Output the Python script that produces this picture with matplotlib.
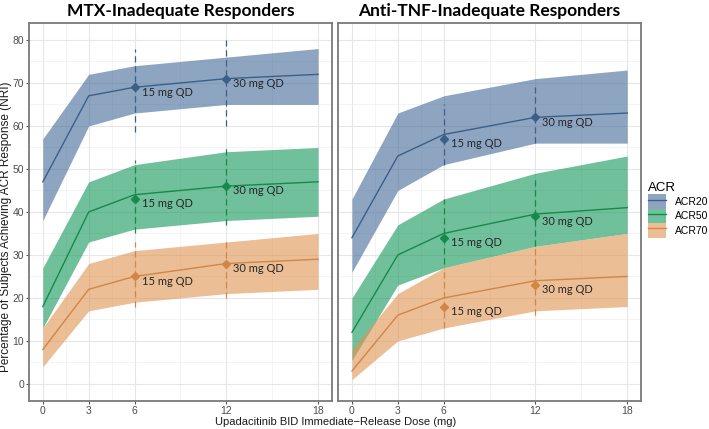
import matplotlib
matplotlib.use('agg')
import matplotlib.pyplot as plt
from matplotlib.patches import Patch
from matplotlib.lines import Line2D
import numpy as np

plt.rcParams['font.family'] = ['Liberation Sans', 'DejaVu Sans']

# model doses (mg BID) and observed doses
dose = [0, 3, 6, 12, 18]
obs_dose = [6, 12]
obs_labels = ['15 mg QD', '30 mg QD']
series = ['ACR20', 'ACR50', 'ACR70']

# MTX-inadequate responders: model median, lower, upper
mtx_mid = {'ACR20': [47, 67, 69, 71, 72],
           'ACR50': [18, 40, 44, 46, 47],
           'ACR70': [8, 22, 25, 28, 29]}
mtx_lo = {'ACR20': [38, 60, 63, 65, 65],
          'ACR50': [13, 33, 36, 38, 39],
          'ACR70': [4, 17, 19, 21, 22]}
mtx_hi = {'ACR20': [57, 72, 74, 76, 78],
          'ACR50': [27, 47, 51, 54, 55],
          'ACR70': [13, 28, 31, 33, 35]}
# observed values and their CIs at 15 / 30 mg QD
mtx_obs = {'ACR20': [69, 71], 'ACR50': [43, 46], 'ACR70': [25, 28]}
mtx_obs_lo = {'ACR20': [58.5, 60], 'ACR50': [35, 37], 'ACR70': [18, 20]}
mtx_obs_hi = {'ACR20': [78, 80], 'ACR50': [52, 55], 'ACR70': [33, 34]}

# anti-TNF-inadequate responders
tnf_mid = {'ACR20': [34, 53, 58, 62, 63],
           'ACR50': [12, 30, 35, 39.5, 41],
           'ACR70': [3, 16, 20, 24, 25]}
tnf_lo = {'ACR20': [26, 45, 51, 56, 56],
          'ACR50': [5.5, 23, 27, 32, 35],
          'ACR70': [1, 10, 13, 17, 18]}
tnf_hi = {'ACR20': [43, 63, 67, 71, 73],
          'ACR50': [20, 37, 43, 49, 53],
          'ACR70': [8, 21, 27, 32, 35]}
tnf_obs = {'ACR20': [57, 62], 'ACR50': [34, 39], 'ACR70': [18, 23]}
tnf_obs_lo = {'ACR20': [51, 56], 'ACR50': [28, 32], 'ACR70': [13, 16]}
tnf_obs_hi = {'ACR20': [65, 69], 'ACR50': [43, 48], 'ACR70': [27, 32]}

fill_col = {'ACR20': '#416998', 'ACR50': '#12965a', 'ACR70': '#df9350'}
line_col = {'ACR20': '#3d5f85', 'ACR50': '#168a4a', 'ACR70': '#cf8646'}

fig = plt.figure(figsize=(7.09, 4.29), dpi=100)
ax1 = fig.add_axes([0.041, 0.065, 0.427, 0.882])
ax2 = fig.add_axes([0.477, 0.065, 0.427, 0.882])

panels = [(ax1, 'MTX-Inadequate Responders', mtx_mid, mtx_lo, mtx_hi, mtx_obs, mtx_obs_lo, mtx_obs_hi),
          (ax2, 'Anti-TNF-Inadequate Responders', tnf_mid, tnf_lo, tnf_hi, tnf_obs, tnf_obs_lo, tnf_obs_hi)]

for ax, title, mid, lo, hi, obs, olo, ohi in panels:
    ax.set_xlim(-0.9, 18.9)
    ax.set_ylim(-4, 84)
    ax.set_xticks([0, 3, 6, 12, 18])
    ax.set_xticks([1.5, 4.5, 9, 15], minor=True)
    ax.set_yticks(np.arange(0, 81, 10))
    ax.set_yticks(np.arange(5, 80, 10), minor=True)
    ax.grid(which='major', color='#e6e6e6', lw=0.8, zorder=0)
    ax.grid(which='minor', color='#f0f0f0', lw=0.5, zorder=0)
    ax.set_axisbelow(True)
    for s in ax.spines.values():
        s.set_color('#7a7a7a')
        s.set_linewidth(1.3)
    ax.tick_params(which='major', length=2.5, color='#555555', labelcolor='#4d4d4d', labelsize=7.5, pad=1)
    ax.tick_params(which='minor', length=0)
    ax.set_title(title, fontsize=12.5, fontweight='bold', family=['Lato', 'DejaVu Sans'], pad=5)

    for s in series:
        ax.fill_between(dose, lo[s], hi[s], color=fill_col[s], alpha=0.6, lw=0, zorder=2)
        ax.plot(dose, mid[s], color=line_col[s], lw=1.0, zorder=3)
        for j, xd in enumerate(obs_dose):
            ax.plot([xd, xd], [olo[s][j], ohi[s][j]], color=line_col[s], lw=0.9,
                    ls=(0, (5, 3)), zorder=3)
            ax.plot(xd, obs[s][j], marker='D', ms=4.5, color=line_col[s], zorder=4)
            ax.annotate(obs_labels[j], (xd, obs[s][j]), textcoords='offset points',
                        xytext=(5, -3.5), ha='left', va='center', fontsize=8,
                        color='#262626', family=['Lato', 'DejaVu Sans'], zorder=5)

ax2.tick_params(axis='y', labelleft=False, length=0)
fig.text(0.0085, 0.471, 'Percentage of Subjects Achieving ACR Response (NRI)', rotation=90,
         ha='center', va='center', fontsize=8.5, color='#1a1a1a')
fig.text(0.474, 0.016, 'Upadacitinib BID Immediate\u2212Release Dose (mg)', ha='center',
         va='center', fontsize=8, color='#1a1a1a')

handles = [(Patch(facecolor=fill_col[s], alpha=0.6, edgecolor='none'),
            Line2D([], [], color=line_col[s], lw=1.0)) for s in series]
leg = fig.legend(handles, series, loc='upper left', bbox_to_anchor=(0.914, 0.575),
                 frameon=False, title='ACR', fontsize=7.5, title_fontsize=9.5,
                 handlelength=1.7, handleheight=1.75, labelspacing=0.0, handletextpad=0.9,
                 borderpad=0, borderaxespad=0)
leg._legend_box.align = 'left'

fig.savefig('out.png', dpi=100)
